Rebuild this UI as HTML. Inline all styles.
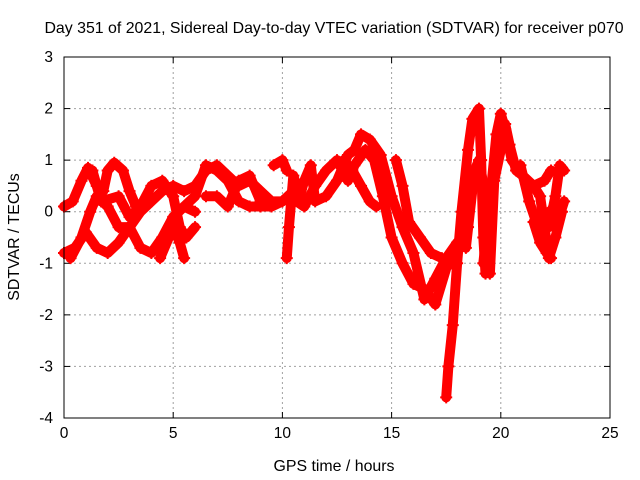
<!DOCTYPE html>
<html><head><meta charset="utf-8"><style>
body{margin:0;background:#fff}
svg{display:block;font-family:"Liberation Sans",sans-serif}
</style></head><body>
<svg id="chart" width="640" height="480" viewBox="0 0 640 480">
<rect width="640" height="480" fill="#fff"/>
<text x="334" y="33" text-anchor="middle" font-size="15.9">Day 351 of 2021, Sidereal Day-to-day VTEC variation (SDTVAR) for receiver p070</text>
<text x="0" y="0" transform="translate(19,237) rotate(-90)" text-anchor="middle" font-size="15.9">SDTVAR / TECUs</text>
<text x="334" y="471" text-anchor="middle" font-size="15.9">GPS time / hours</text>
<g id="grid"></g><g id="ticks"></g><g id="marks"></g>
<rect x="64" y="57" width="546" height="361" fill="none" stroke="#000" stroke-width="1"/>
</svg>
<script>
const xTicks=[0,5,10,15,20,25];
const yTicks=[-4,-3,-2,-1,0,1,2,3];
const T1=[[0,-0.8],[0.5,-0.7],[1,-0.4],[1.5,-0.7],[2,-0.8],[2.5,-0.6],[3,-0.3],[3.5,0],[4,0.2],[4.5,0.4],[5,0.5],[5.5,0.4],[6,0.5],[6.5,0.8],[7,0.9],[7.5,0.7],[8,0.5],[8.5,0.6],[9,0.4],[9.5,0.2],[10,0.2]];
const T2=[[0,0.1],[0.4,0.2],[0.8,0.6],[1.1,0.85],[1.5,0.5],[1.8,0.4],[2,0.8],[2.3,0.95],[2.7,0.8],[3,0.4],[3.3,0.1]];
const T3=[[0.3,-0.9],[0.8,-0.5],[1.2,0],[1.5,0.3],[2,0.1],[2.5,-0.3],[3,-0.3],[3.5,-0.7],[4,-0.8],[4.5,-0.5],[5,-0.1],[5.5,0.1],[6,0]];
const T4=[[1.3,0.8],[1.7,0.2],[2.5,0.3],[3,-0.1],[3.5,0.1],[4,0.5],[4.5,0.6],[5,0.3],[5.3,-0.3],[5.6,-0.5],[6,-0.3]];
const T5=[[4.4,-0.9],[4.8,-0.5],[5,-0.3],[5.3,-0.6],[5.5,-0.9]];
const T6=[[5.5,0.1],[6,0.3],[6.5,0.9],[7,0.8],[7.5,0.6],[8,0.2],[8.5,0.1],[9,0.1],[9.5,0.1],[10,0.2],[10.5,0.4]];
const T7=[[6.5,0.3],[7,0.3],[7.5,0.1],[8,0.6],[8.5,0.7],[9,0.2]];
const T8=[[9.6,0.9],[10,1.0],[10.2,0.8]];
const T9=[[10.2,-0.9],[10.3,-0.3],[10.5,0.7],[10.8,0.3],[11,0.6],[11.3,0.9],[11.5,0.2],[12,0.3],[12.5,0.6],[13,1.1],[13.3,1.2],[13.6,1.5],[14,1.4],[14.5,1.1],[15,0.3],[15.5,-0.3],[16,-0.8],[16.5,-1.7],[17,-1.3],[17.5,-0.9],[18,-0.6]];
const T10=[[10.3,0.3],[11,0.1],[11.5,0.5],[12,0.8],[12.5,1.0],[13,0.6],[13.3,0.9],[13.8,1.2],[14.2,1.0],[14.6,0.3],[15,-0.5],[15.5,-1.0],[16,-1.4],[16.5,-1.5],[17,-1.8],[17.5,-1.1]];
const T11=[[12.8,1.0],[13.2,0.8],[13.6,0.5],[14,0.2],[14.3,0.1]];
const T12=[[15.2,1.0],[15.5,0.5],[15.8,-0.2],[16.3,-0.5],[16.8,-0.8],[17.3,-0.9],[17.8,-1.0],[18.2,-0.6],[18.5,-0.3]];
const T13=[[17.5,-3.6],[17.6,-3.0],[17.8,-2.2],[18,-1.0],[18.2,0],[18.5,1.2],[18.7,1.8],[19,2.0],[19.1,1.0],[19.2,-0.5],[19.3,-1.2]];
const T14=[[18.4,-0.7],[18.8,0.8],[19,1.0],[19.3,0.3],[19.5,-1.2],[19.7,0.6],[20,1.2],[20.2,1.7],[20.4,1.3],[20.7,0.8],[21,0.7],[21.5,0.5],[21.8,0.3],[22,-0.3],[22.2,-0.9],[22.5,-0.5],[22.8,0]];
const T15=[[19.2,-1.0],[19.5,0.2],[19.8,1.5],[20,1.9],[20.2,1.6],[20.5,1.0],[21,0.7],[21.5,0.5],[22,0.6],[22.3,0.8]];
const T16=[[21.5,-0.2],[21.8,-0.6],[22.1,-0.8],[22.3,-0.9]];
const T17=[[22.2,-0.3],[22.5,0.3],[22.7,0.9],[22.9,0.8]];
const T18=[[20.9,0.9],[21.3,0.2],[21.7,-0.3],[22.2,0.0],[22.6,-0.2],[22.9,0.2]];
const tracks=[T1,T2,T3,T4,T5,T6,T7,T8,T9,T10,T11,T12,T13,T14,T15,T16,T17,T18];
const NS="http://www.w3.org/2000/svg";
const X0=64,X1=610,Y0=418,Y1=57;
function sx(h){return X0+(h-0)/(25-0)*(X1-X0);}
function sy(v){return Y0-(v+4)/(3+4)*(Y0-Y1);}
const grid=document.getElementById('grid'),ticks=document.getElementById('ticks'),marks=document.getElementById('marks');
function mk(tag,attrs,parent){const e=document.createElementNS(NS,tag);for(const k in attrs)e.setAttribute(k,attrs[k]);parent.appendChild(e);return e;}
xTicks.forEach(t=>{
  const x=sx(t);
  if(t>0&&t<25){const g=mk('line',{x1:x,x2:x,y1:Y1,y2:Y0,stroke:'#a0a0a0','stroke-dasharray':'2,3'},grid);
    
    }
  const l=mk('line',{x1:x,x2:x,y1:Y0,y2:Y0-6,stroke:'#000'},ticks);
  
  
  const l2=mk('line',{x1:x,x2:x,y1:Y1,y2:Y1+6,stroke:'#000'},ticks);
  
  
  const tx=mk('text',{x:x,y:Y0+20,'text-anchor':'middle','font-size':'15.5'},ticks);tx.textContent=t;
  
  
});
yTicks.forEach(t=>{
  const y=sy(t);
  if(t>-4&&t<3){const g=mk('line',{x1:X0,x2:X1,y1:y,y2:y,stroke:'#a0a0a0','stroke-dasharray':'2,3'},grid);
    
    }
  const l=mk('line',{x1:X0,x2:X0+6,y1:y,y2:y,stroke:'#000'},ticks);
  
  
  const l2=mk('line',{x1:X1,x2:X1-6,y1:y,y2:y,stroke:'#000'},ticks);
  
  
  const tx=mk('text',{x:X0-11,y:y+5,'text-anchor':'end','font-size':'15.5'},ticks);tx.textContent=t;
  
  
});
tracks.forEach((tr,i)=>{
  const p=mk('polyline',{points:tr.map(d=>sx(d[0])+','+sy(d[1])).join(' '),fill:'none',stroke:'#ff0000','stroke-width':'10','stroke-linejoin':'round','stroke-linecap':'round'},marks);
  
  
  tr.forEach(d=>{
    const x=sx(d[0]),y=sy(d[1]);
    const m=mk('path',{d:`M${x-6},${y}H${x+6}M${x},${y-6}V${y+6}`,stroke:'#ff0000','stroke-width':'2'},marks);
    
    
  });
});
</script>
</body></html>
